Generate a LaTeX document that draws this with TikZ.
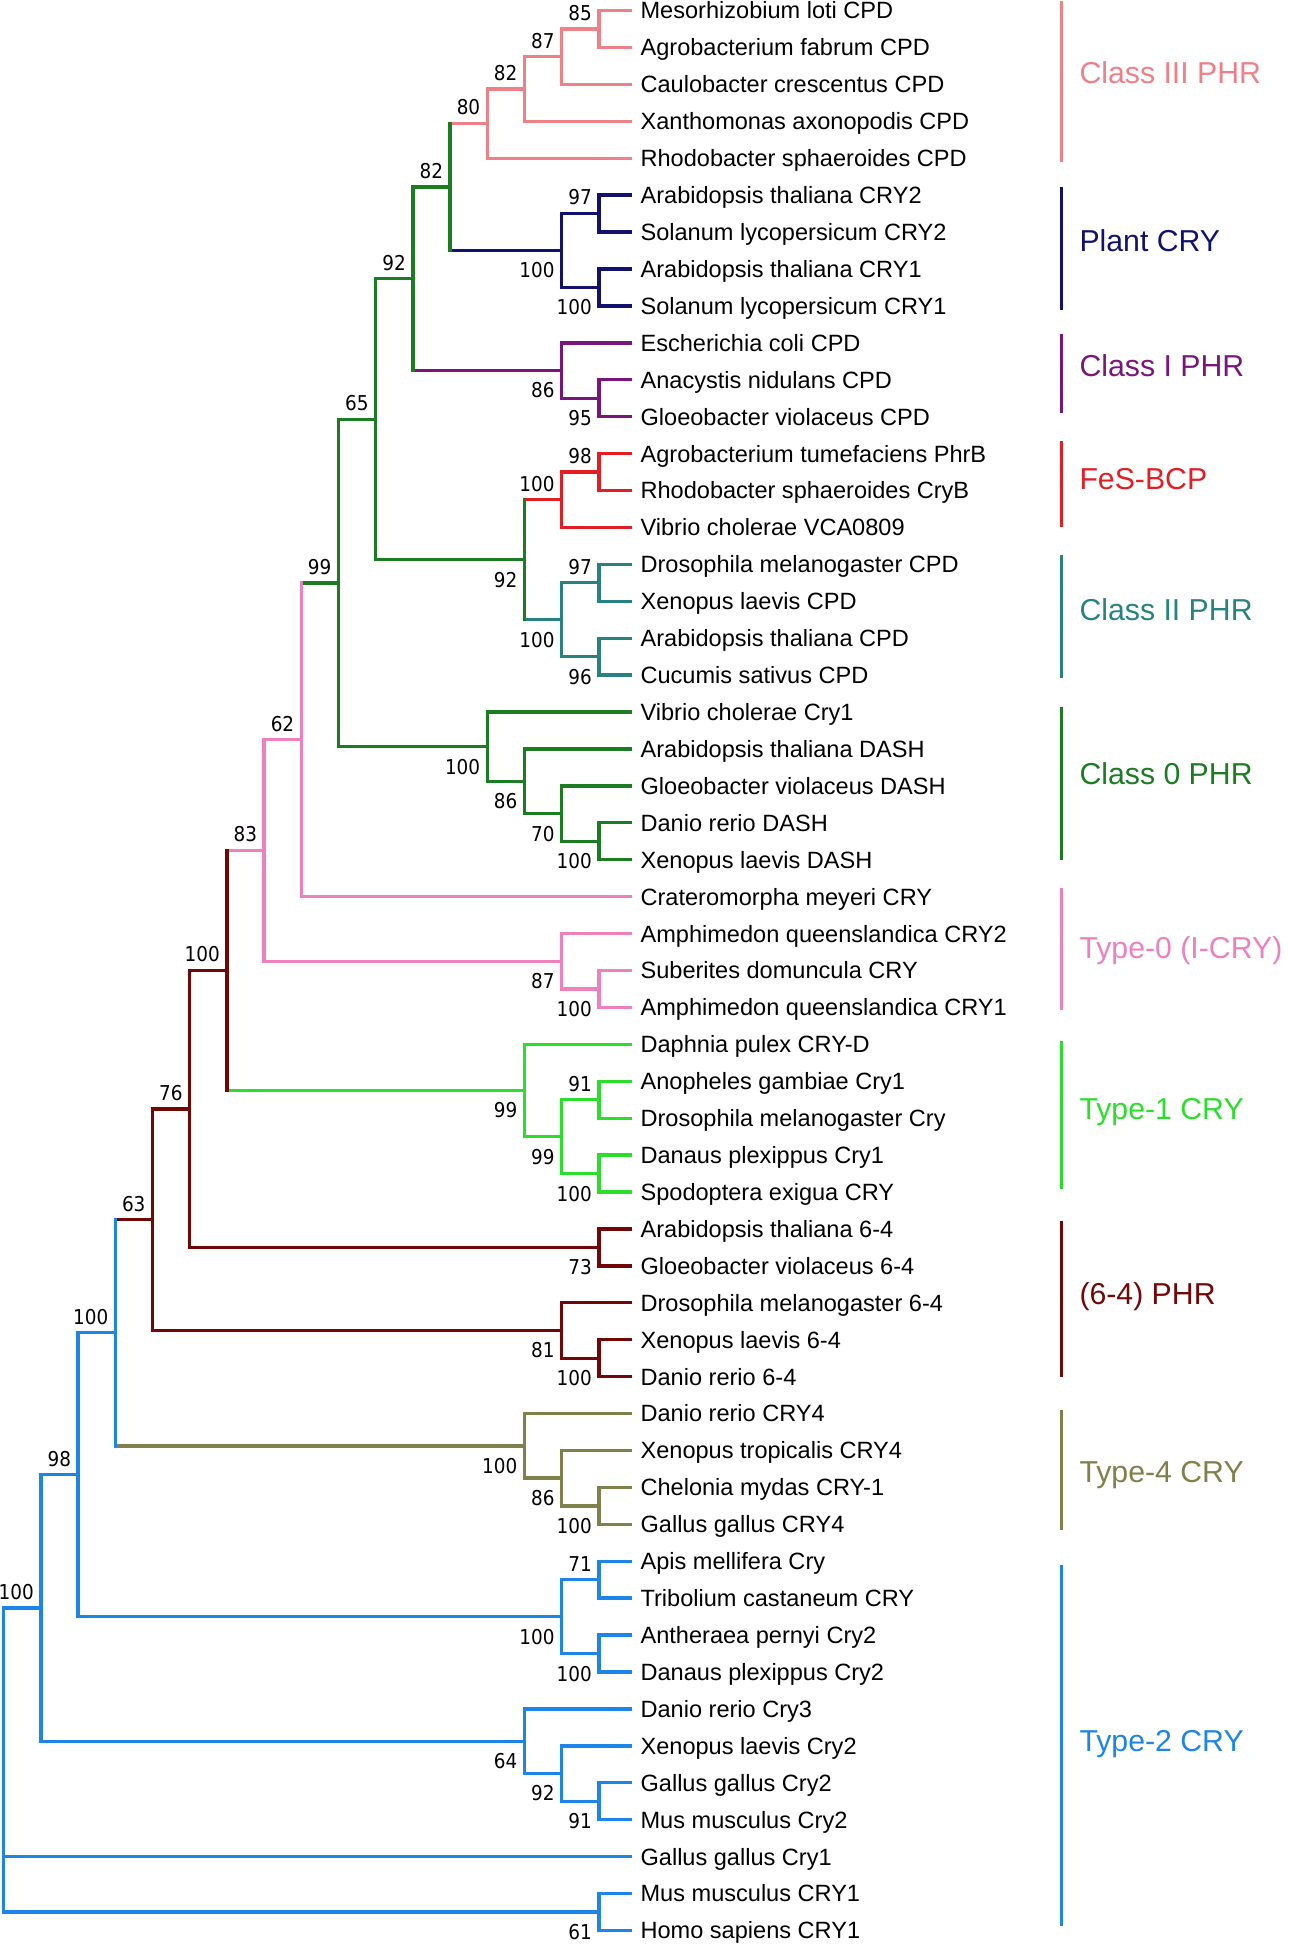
\documentclass[tikz,border=0pt]{standalone}
\usepackage{fontspec}
\setmainfont{Liberation Sans}
\newfontfamily\bsfont[FakeStretch=0.9]{DejaVu Sans}
\newfontfamily\cladefont{Liberation Sans}
\definecolor{c3}{RGB}{240,128,136}
\definecolor{cP}{RGB}{18,18,110}
\definecolor{cI}{RGB}{122,22,122}
\definecolor{cF}{RGB}{226,30,36}
\definecolor{cII}{RGB}{40,130,130}
\definecolor{c0}{RGB}{28,124,34}
\definecolor{cT0}{RGB}{238,128,190}
\definecolor{cT1}{RGB}{44,222,44}
\definecolor{c64}{RGB}{112,8,8}
\definecolor{cT4}{RGB}{128,128,74}
\definecolor{cT2}{RGB}{30,132,232}
\begin{document}
\begin{tikzpicture}[x=1pt,y=-29.78pt,
  br/.style={line width=2.7pt},
  vbr/.style={line width=2.7pt,line cap=rect},
  leaf/.style={anchor=base west,yshift=-6.8pt,inner sep=0pt,font=\fontsize{19}{21}\selectfont},
  bsa/.style={anchor=base east,xshift=-5.5pt,yshift=7pt,inner sep=0pt,font=\bsfont\fontsize{16.5}{18}\selectfont},
  bsb/.style={anchor=north east,xshift=-5.5pt,yshift=-9.7pt,inner sep=0pt,font=\bsfont\fontsize{16.5}{18}\selectfont},
  clade/.style={anchor=base west,yshift=-8.75pt,inner sep=0pt,font=\cladefont\fontsize{24.4}{28}\selectfont},
  bar/.style={line width=2.7pt}]
\useasboundingbox (0,-0.28543) rectangle (1039,52.3674);
% internal node positions
\foreach \n/\x/\y in {root/3/47,n100top/33/43.26564,n98r/63/39.65628,n100o/93/35.812561,
  n63/123/32.750122,n76/153/29.750244,n100n/183/26.000488,n83/213/22.750977,
  n62/243/19.751953,n99c/273/15.50390625,n65/303/11.0703125,n92c/333/7.265625,
  n82b/363/4.78125,n80/393/3.0625,n82a/423/2.125,n87b/453/1.25,n85/483/0.5,
  n100m/453/6.5,n97b/483/5.5,n100l/483/7.5,n86c/453/9.75,n95/483/10.5,
  n92b/423/14.875,n100k/453/13.25,n98/483/12.5,n100j/453/16.5,n97/483/15.5,n96/483/17.5,
  n100i/393/19.9375,n86b/423/20.875,n70/453/21.75,n100h/483/22.5,
  n87/453/25.75,n100g/483/26.5,
  n99b/423/29.25,n99a/453/30.5,n91b/483/29.5,n100f/483/31.5,
  n73/483/33.5,n81/453/35.75,n100e/483/36.5,
  n100d/423/38.875,n86/453/39.75,n100c/483/40.5,
  n100a/453/43.5,n71/483/42.5,n100b/483/44.5,
  n64/423/46.875,n92/453/47.75,n91/483/48.5,n61/483/51.5}
  \coordinate (\n) at (\x,\y);
\foreach \i in {0,...,52} \coordinate (e\i) at (510,\i);
% horizontal branches of internal nodes
\foreach \n/\p/\c in {n100top/root/cT2,n98r/n100top/cT2,n100o/n98r/cT2,n63/n100o/c64,
  n76/n63/c64,n100n/n76/c64,n83/n100n/cT0,n62/n83/cT0,n99c/n62/c0,n65/n99c/c0,
  n92c/n65/c0,n82b/n92c/c0,n80/n82b/c3,n82a/n80/c3,n87b/n82a/c3,n85/n87b/c3,
  n100m/n82b/cP,n97b/n100m/cP,n100l/n100m/cP,n86c/n92c/cI,n95/n86c/cI,
  n92b/n65/c0,n100k/n92b/cF,n98/n100k/cF,n100j/n92b/cII,n97/n100j/cII,n96/n100j/cII,
  n100i/n99c/c0,n86b/n100i/c0,n70/n86b/c0,n100h/n70/c0,n87/n83/cT0,n100g/n87/cT0,
  n99b/n100n/cT1,n99a/n99b/cT1,n91b/n99a/cT1,n100f/n99a/cT1,n73/n76/c64,n81/n63/c64,
  n100e/n81/c64,n100d/n100o/cT4,n86/n100d/cT4,n100c/n86/cT4,n100a/n98r/cT2,
  n71/n100a/cT2,n100b/n100a/cT2,n64/n100top/cT2,n92/n64/cT2,n91/n92/cT2,n61/root/cT2}
  \draw[br,color=\c] (\p |- \n) -- (\n);
% leaves
\foreach \i/\p/\c/\t in {0/n85/c3/Mesorhizobium loti CPD,1/n85/c3/Agrobacterium fabrum CPD,
  2/n87b/c3/Caulobacter crescentus CPD,3/n82a/c3/Xanthomonas axonopodis CPD,
  4/n80/c3/Rhodobacter sphaeroides CPD,5/n97b/cP/Arabidopsis thaliana CRY2,
  6/n97b/cP/Solanum lycopersicum CRY2,7/n100l/cP/Arabidopsis thaliana CRY1,
  8/n100l/cP/Solanum lycopersicum CRY1,9/n86c/cI/Escherichia coli CPD,
  10/n95/cI/Anacystis nidulans CPD,11/n95/cI/Gloeobacter violaceus CPD,
  12/n98/cF/Agrobacterium tumefaciens PhrB,13/n98/cF/Rhodobacter sphaeroides CryB,
  14/n100k/cF/Vibrio cholerae VCA0809,15/n97/cII/Drosophila melanogaster CPD,
  16/n97/cII/Xenopus laevis CPD,17/n96/cII/Arabidopsis thaliana CPD,
  18/n96/cII/Cucumis sativus CPD,19/n100i/c0/Vibrio cholerae Cry1,
  20/n86b/c0/Arabidopsis thaliana DASH,21/n70/c0/Gloeobacter violaceus DASH,
  22/n100h/c0/Danio rerio DASH,23/n100h/c0/Xenopus laevis DASH,
  24/n62/cT0/Crateromorpha meyeri CRY,25/n87/cT0/Amphimedon queenslandica CRY2,
  26/n100g/cT0/Suberites domuncula CRY,27/n100g/cT0/Amphimedon queenslandica CRY1,
  28/n99b/cT1/Daphnia pulex CRY-D,29/n91b/cT1/Anopheles gambiae Cry1,
  30/n91b/cT1/Drosophila melanogaster Cry,31/n100f/cT1/Danaus plexippus Cry1,
  32/n100f/cT1/Spodoptera exigua CRY,33/n73/c64/Arabidopsis thaliana 6-4,
  34/n73/c64/Gloeobacter violaceus 6-4,35/n81/c64/Drosophila melanogaster 6-4,
  36/n100e/c64/Xenopus laevis 6-4,37/n100e/c64/Danio rerio 6-4,
  38/n100d/cT4/Danio rerio CRY4,39/n86/cT4/Xenopus tropicalis CRY4,
  40/n100c/cT4/Chelonia mydas CRY-1,41/n100c/cT4/Gallus gallus CRY4,
  42/n71/cT2/Apis mellifera Cry,43/n71/cT2/Tribolium castaneum CRY,
  44/n100b/cT2/Antheraea pernyi Cry2,45/n100b/cT2/Danaus plexippus Cry2,
  46/n64/cT2/Danio rerio Cry3,47/n92/cT2/Xenopus laevis Cry2,
  48/n91/cT2/Gallus gallus Cry2,49/n91/cT2/Mus musculus Cry2,
  50/root/cT2/Gallus gallus Cry1,51/n61/cT2/Mus musculus CRY1,
  52/n61/cT2/Homo sapiens CRY1}
{
  \draw[br,color=\c] (\p |- e\i) -- (e\i);
  \node[leaf] (t\i) at (516.5,\i) {\t};
}
% vertical lines of internal nodes
\foreach \n/\a/\b/\c in {root/n100top/n61/cT2,n100top/n98r/n64/cT2,n98r/n100o/n100a/cT2,
  n100o/n63/n100d/cT2,n63/n76/n81/c64,n76/n100n/n73/c64,n100n/n83/n99b/c64,
  n83/n62/n87/cT0,n62/n99c/e24/cT0,n99c/n65/n100i/c0,n65/n92c/n92b/c0,
  n92c/n82b/n86c/c0,n82b/n80/n100m/c0,n80/n82a/e4/c3,n82a/n87b/e3/c3,n87b/n85/e2/c3,
  n85/e0/e1/c3,n100m/n97b/n100l/cP,n97b/e5/e6/cP,n100l/e7/e8/cP,n86c/e9/n95/cI,
  n95/e10/e11/cI,n92b/n100k/n100j/c0,n100k/n98/e14/cF,n98/e12/e13/cF,
  n100j/n97/n96/cII,n97/e15/e16/cII,n96/e17/e18/cII,n100i/e19/n86b/c0,
  n86b/e20/n70/c0,n70/e21/n100h/c0,n100h/e22/e23/c0,n87/e25/n100g/cT0,
  n100g/e26/e27/cT0,n99b/e28/n99a/cT1,n99a/n91b/n100f/cT1,n91b/e29/e30/cT1,
  n100f/e31/e32/cT1,n73/e33/e34/c64,n81/e35/n100e/c64,n100e/e36/e37/c64,
  n100d/e38/n86/cT4,n86/e39/n100c/cT4,n100c/e40/e41/cT4,n100a/n71/n100b/cT2,
  n71/e42/e43/cT2,n100b/e44/e45/cT2,n64/e46/n92/cT2,n92/e47/n91/cT2,
  n91/e48/e49/cT2,n61/e51/e52/cT2}
  \draw[vbr,color=\c] (\n |- \a) -- (\n |- \b);
% bootstrap values
\foreach \n/\v in {n100top/100,n98r/98,n100o/100,n63/63,n76/76,n100n/100,n83/83,n62/62,
  n99c/99,n65/65,n92c/92,n82b/82,n80/80,n82a/82,n87b/87,n85/85,n97b/97,n100k/100,
  n98/98,n97/97,n91b/91,n71/71}
  \node[bsa] (b\n) at (\n) {\v};
\foreach \n/\v in {n100m/100,n100l/100,n86c/86,n95/95,n92b/92,n100j/100,n96/96,
  n100i/100,n86b/86,n70/70,n100h/100,n87/87,n100g/100,n99b/99,n99a/99,n100f/100,
  n73/73,n81/81,n100e/100,n100d/100,n86/86,n100c/100,n100a/100,n100b/100,
  n64/64,n92/92,n91/91,n61/61}
  \node[bsb] (b\n) at (\n) {\v};
% clade bars and names
\foreach \c/\ya/\yb/\yl/\t in {c3/-0.25/4.11/1.68/Class III PHR,cP/4.785/8.11/6.24/Plant CRY,
  cI/8.75/10.9/9.62/Class I PHR,cF/11.67/13.99/12.68/FeS-BCP,
  cII/14.76/18.08/16.24/Class II PHR,c0/18.85/23.02/20.67/Class 0 PHR,
  cT0/23.76/27.08/25.37/Type-0 (I-CRY),cT1/27.92/31.92/29.73/Type-1 CRY,
  c64/32.79/37.02/34.74/(6-4) PHR,cT4/37.9/41.15/39.57/Type-4 CRY,
  cT2/42.09/51.87/46.86/Type-2 CRY}
{
  \coordinate (bt\c) at (856,\ya);
  \coordinate (bb\c) at (856,\yb);
  \draw[bar,color=\c] (bt\c) -- (bb\c);
  \node[clade,text=\c] (lab\c) at (870.5,\yl) {\t};
}
\end{tikzpicture}
\end{document}
